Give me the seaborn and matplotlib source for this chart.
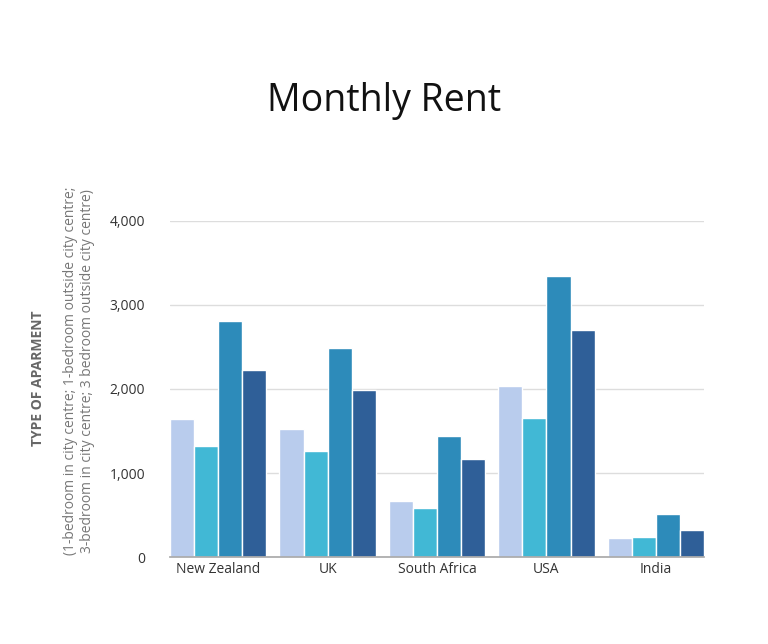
import pandas as pd
import matplotlib
matplotlib.use("Agg")
import matplotlib.pyplot as plt
import seaborn as sns

# Data
countries = ["New Zealand", "UK", "South Africa", "USA", "India"]
apartment_types = [
    "1-bedroom in city centre",
    "1-bedroom outside city centre",
    "3-bedroom in city centre",
    "3 bedroom outside city centre",
]
rent_1bed_centre = [1640, 1520, 670, 2030, 230]
rent_1bed_outside = [1320, 1260, 580, 1650, 240]
rent_3bed_centre = [2810, 2490, 1440, 3340, 510]
rent_3bed_outside = [2220, 1990, 1170, 2700, 320]

palette = ["#B9CCED", "#41B8D5", "#2D8BBA", "#2F5F98"]

rows = []
for series, values in zip(apartment_types,
                          [rent_1bed_centre, rent_1bed_outside,
                           rent_3bed_centre, rent_3bed_outside]):
    for country, v in zip(countries, values):
        rows.append({"Country": country, "Type": series, "Rent": v})
df = pd.DataFrame(rows)

sns.set_theme(style="white")
plt.rcParams['font.family'] = ['Open Sans', 'DejaVu Sans']

fig = plt.figure(figsize=(7.68, 6.44), dpi=100)
ax = fig.add_axes([0.2214, 0.135, 0.6953, 0.522])

sns.barplot(data=df, x="Country", y="Rent", hue="Type", order=countries,
            hue_order=apartment_types, palette=palette, width=0.88,
            edgecolor="white", linewidth=1, saturation=1, legend=False, ax=ax)

ax.set_ylim(0, 4000)
ax.set_xlim(-0.44, len(countries) - 0.56)
ax.set_yticks([0, 1000, 2000, 3000, 4000])
ax.set_yticklabels(["0", "1,000", "2,000", "3,000", "4,000"])
ax.yaxis.grid(True, color="#dddddd", linewidth=1)
ax.set_axisbelow(True)
for s in ["top", "right", "left"]:
    ax.spines[s].set_visible(False)
ax.spines["bottom"].set_color("#aaaaaa")
ax.tick_params(axis="both", length=0, labelsize=10, colors="#333333")
ax.tick_params(axis="y", pad=18)
ax.set_xlabel("")
ax.set_ylabel("")

fig.text(0.5, 0.843, "Monthly Rent", ha="center", va="center",
         fontsize=27, color="#111111")
fig.text(0.050, 0.413, "TYPE OF APARMENT", rotation=90, ha="center",
         va="center", fontsize=10, fontweight="bold", color="#666666")
fig.text(0.103, 0.424,
         "(1-bedroom in city centre; 1-bedroom outside city centre;\n"
         "3-bedroom in city centre; 3 bedroom outside city centre)",
         rotation=90, ha="center", va="center", fontsize=10,
         color="#777777", linespacing=1.2)

fig.savefig("out.png", dpi=100, facecolor="white")
